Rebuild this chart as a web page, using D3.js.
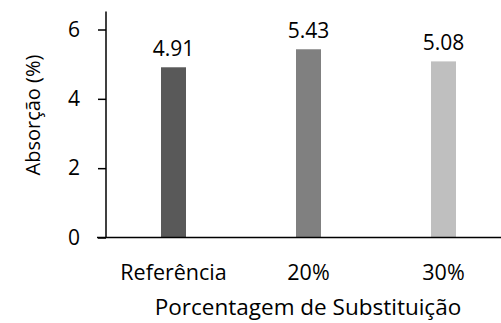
<!DOCTYPE html>
<html>
<head>
<meta charset="utf-8">
<script src="https://cdn.jsdelivr.net/npm/d3@7"></script>
<style>
  html, body { margin: 0; padding: 0; background: #fff; }
  svg { display: block; }
  text { font-family: "Open Sans", "Noto Sans", sans-serif; fill: #000; }
</style>
</head>
<body>
<svg id="chart" width="501" height="323"></svg>
<script>
// Water absorption by replacement percentage
const categories = ["Referência", "20%", "30%"];
const values = [4.91, 5.43, 5.08];
const barColors = ["#595959", "#808080", "#bfbfbf"];
const yTicks = [0, 2, 4, 6];
const yLabel = "Absorção (%)";
const xLabel = "Porcentagem de Substituição";

const svg = d3.select("#chart");
const fontSize = 21.5;
const numSize = 21;

const x = d3.scaleBand().domain(categories).range([106, 511]).padding(0);
const y = d3.scaleLinear().domain([0, 6]).range([237.5, 29.5]);
const barW = 25;
const cx = c => x(c) + x.bandwidth() / 2;

// bars
svg.append("g").selectAll("rect")
  .data(values)
  .join("rect")
  .attr("x", (d, i) => cx(categories[i]) - barW / 2)
  .attr("y", d => y(d))
  .attr("width", barW)
  .attr("height", d => y(0) - y(d))
  .attr("fill", (d, i) => barColors[i]);

// value labels
svg.append("g").selectAll("text")
  .data(values)
  .join("text")
  .attr("x", (d, i) => cx(categories[i]))
  .attr("y", d => y(d) - 11.5)
  .attr("text-anchor", "middle")
  .attr("font-size", numSize)
  .text(d => d.toFixed(2));

// y axis
const yAxis = d3.axisLeft(y).tickValues(yTicks).tickFormat(d3.format("d"))
  .tickSize(8).tickSizeOuter(0).tickPadding(18);
const gy = svg.append("g").attr("transform", "translate(106,0)").call(yAxis);
gy.select(".domain").attr("stroke", "#000").attr("stroke-width", 1.5)
  .attr("d", `M0,${y(6) - 18}V${y(0)}`);
gy.selectAll(".tick line").attr("stroke", "#000").attr("stroke-width", 1.5);
gy.selectAll(".tick text").attr("font-size", numSize)
  .attr("font-family", "Open Sans, sans-serif").attr("fill", "#000");

// x axis baseline
svg.append("line")
  .attr("x1", 97).attr("x2", 501)
  .attr("y1", y(0)).attr("y2", y(0))
  .attr("stroke", "#000").attr("stroke-width", 1.5);

// category labels
svg.append("g").selectAll("text")
  .data(categories)
  .join("text")
  .attr("x", d => cx(d))
  .attr("y", 280)
  .attr("text-anchor", "middle")
  .attr("font-size", fontSize)
  .text(d => d);

// axis titles
svg.append("text")
  .attr("transform", "translate(40,115) rotate(-90)")
  .attr("text-anchor", "middle")
  .attr("font-size", 20)
  .text(yLabel);

svg.append("text")
  .attr("x", 308)
  .attr("y", 315)
  .attr("text-anchor", "middle")
  .attr("font-size", 22.5)
  .text(xLabel);
</script>
</body>
</html>
